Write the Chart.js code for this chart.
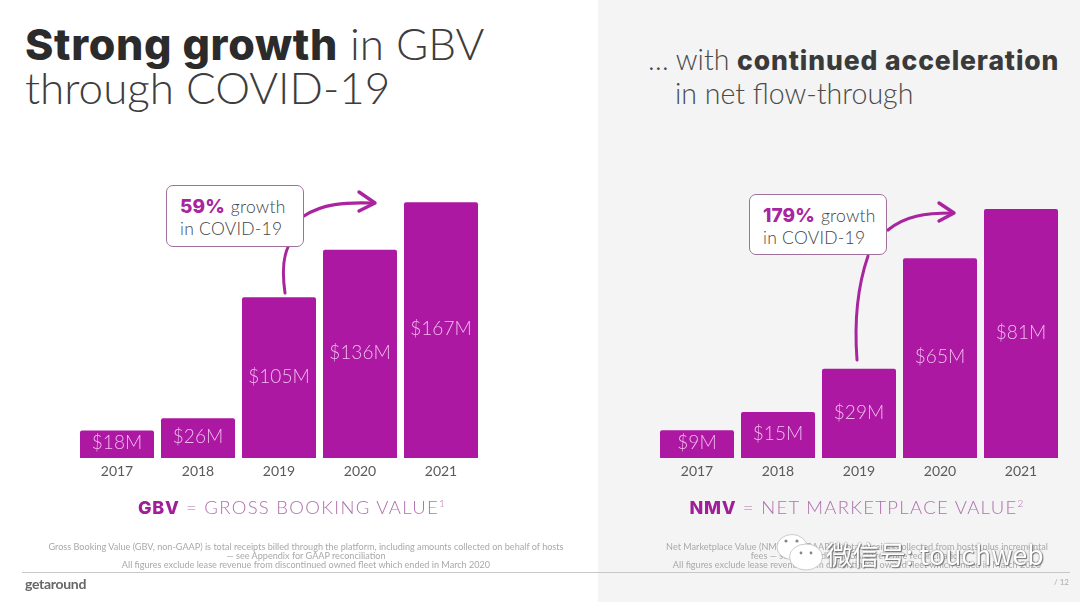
<!DOCTYPE html>
<html>
<head>
<meta charset="utf-8">
<script src="https://cdn.jsdelivr.net/npm/chart.js"></script>
<style>
  html, body { margin: 0; padding: 0; background: #fff; }
  body { width: 1080px; height: 602px; position: relative; overflow: hidden; font-family: Lato, sans-serif; color: #4a4a4a; }
  .abs { position: absolute; white-space: nowrap; }
  #rightPanel { left: 598px; top: 0; width: 482px; height: 602px; background: #f4f4f4; }
  canvas { position: absolute; }
  b { font-family: Inter, sans-serif; }
  .title { font-size: 44px; line-height: 43px; font-weight: 300; color: #3d3d3d; }
  .title b { font-weight: 800; font-size: 43px; letter-spacing: 0.7px; color: #2b2b2b; }
  .sub { font-size: 28.5px; line-height: 33px; font-weight: 300; color: #4a4a4a; }
  .sub b { font-weight: 800; font-size: 26.5px; letter-spacing: 0.9px; color: #3a3a3a; }
  .callout { border: 1px solid #a0709c; border-radius: 7px; background: #fff; box-sizing: border-box; font-size: 17.5px; line-height: 22px; font-weight: 300; letter-spacing: 0.25px; padding: 10px 0 0 13px; color: #444; }
  .callout b { color: #a9259f; font-weight: 800; font-size: 19px; letter-spacing: 0.1px; margin-right: 1px; }
  .metric { font-size: 18.5px; font-weight: 300; letter-spacing: 1.3px; color: #b06fae; transform: translateX(-50%); }
  .metric b { color: #a01f98; font-weight: 800; font-size: 18px; letter-spacing: 0.8px; }
  .metric sup { font-size: 10px; line-height: 0; }
  .note { font-size: 9.1px; line-height: 9.2px; color: #a9a9a9; text-align: center; transform: translateX(-50%); font-weight: 400; }
  #footLine { left: 22px; top: 572px; width: 1048px; height: 1px; background: #c8c8c8; }
  #logo { left: 25px; top: 575px; font-size: 14px; font-weight: 700; color: #666; letter-spacing: -0.3px; }
  #page { left: 1054px; top: 577px; font-size: 8px; color: #aaa; }
  #mark { left: 826px; top: 534px; font-size: 26.5px; letter-spacing: 0.1px; font-family: "Noto Sans CJK SC", sans-serif; color: #fff; text-shadow: 0 0 2px #666, 1px 1px 1px #777; }
  svg { position: absolute; left: 0; top: 0; }
</style>
</head>
<body>
<div class="abs" id="rightPanel"></div>

<div class="abs title" style="left:25px;top:22px"><b>Strong growth</b> in GBV<br>through COVID-19</div>
<div class="abs sub" style="left:648px;top:43px">… with <b>continued acceleration</b><br><span style="margin-left:27px">in net flow-through</span></div>

<canvas id="gbvChart"></canvas>
<canvas id="nmvChart"></canvas>

<svg width="1080" height="602" fill="none" stroke="#a9259f" stroke-linecap="round" stroke-linejoin="round">
  <path d="M285 293 C282 272 283 258 288 247" stroke-width="3"/>
  <path d="M304 216 C322 204 345 202 372 203" stroke-width="3.2"/>
  <path d="M359 192 L375 203 L359 211" stroke-width="3.4"/>
  <path d="M857 360 C854 320 858 285 868 256" stroke-width="3"/>
  <path d="M888 230 C905 216 925 213 952 213" stroke-width="3.2"/>
  <path d="M939 203 L954 213 L939 221" stroke-width="3.4"/>
</svg>

<div class="abs callout" style="left:166px;top:185px;width:138px;height:62px"><b>59%</b> growth<br>in COVID-19</div>
<div class="abs callout" style="left:749px;top:194px;width:138px;height:61px"><b>179%</b> growth<br>in COVID-19</div>

<div class="abs metric" style="left:292px;top:496px"><b>GBV</b> = GROSS BOOKING VALUE<sup>1</sup></div>
<div class="abs metric" style="left:857px;top:496px"><b>NMV</b> = NET MARKETPLACE VALUE<sup>2</sup></div>

<div class="abs note" style="left:306px;top:542px">Gross Booking Value (GBV, non-GAAP) is total receipts billed through the platform, including amounts collected on behalf of hosts<br>— see Appendix for GAAP reconciliation<br>All figures exclude lease revenue from discontinued owned fleet which ended in March 2020</div>
<div class="abs note" style="left:857px;top:542px">Net Marketplace Value (NMV, non-GAAP) is total receipts collected from hosts, plus incremental<br>fees — see Appendix for GAAP revenue reconciliation<br>All figures exclude lease revenue from discontinued owned fleet which ended in March 2020</div>

<div class="abs" id="footLine"></div>
<div class="abs" id="logo">getaround</div>
<div class="abs" id="page">/ 12</div>

<svg width="1080" height="602" fill="#fff" stroke="#aaa" stroke-width="0.6">
  <ellipse cx="792" cy="547" rx="15" ry="12.5"/>
  <circle cx="786" cy="541" r="1.6" fill="#888" stroke="none"/>
  <circle cx="797" cy="541" r="1.6" fill="#888" stroke="none"/>
  <ellipse cx="806" cy="557" rx="16.5" ry="13"/>
  <circle cx="801" cy="553" r="1.4" fill="#888" stroke="none"/>
  <circle cx="811" cy="553" r="1.4" fill="#888" stroke="none"/>
</svg>
<div class="abs" id="mark">微信号: touchweb</div>

<script>
// Data
const years = ['2017', '2018', '2019', '2020', '2021'];
const gbvValues = [18, 26, 105, 136, 167];
const nmvValues = [9, 15, 29, 65, 81];

const BAR_COLOR = '#ad18a3';
const LABEL_COLOR = '#f0bdec';

// Prints "$18M" inside each bar, a bit above its middle
const valueLabels = {
  id: 'valueLabels',
  afterDatasetsDraw(chart) {
    const ctx = chart.ctx;
    const meta = chart.getDatasetMeta(0);
    ctx.save();
    ctx.fillStyle = LABEL_COLOR;
    ctx.font = '300 19px Lato';
    ctx.textAlign = 'center';
    ctx.textBaseline = 'middle';
    meta.data.forEach((bar, i) => {
      const value = chart.data.datasets[0].data[i];
      ctx.fillText('$' + value + 'M', bar.x, (bar.y + bar.base) / 2 - 1);
    });
    ctx.restore();
  }
};

function drawBars(canvasId, left, values, yMax) {
  const canvas = document.getElementById(canvasId);
  canvas.style.left = left + 'px';
  canvas.style.top = '170px';
  canvas.width = 406;
  canvas.height = 312;
  canvas.style.width = '406px';
  canvas.style.height = '312px';

  return new Chart(canvas, {
    type: 'bar',
    data: {
      labels: years,
      datasets: [{
        data: values,
        backgroundColor: BAR_COLOR,
        borderRadius: 2,
        borderSkipped: 'bottom',
        barPercentage: 74 / 81,
        categoryPercentage: 1
      }]
    },
    options: {
      responsive: false,
      animation: false,
      devicePixelRatio: 1,
      layout: { padding: { left: 0.5, right: 0.5 } },
      plugins: { legend: { display: false }, tooltip: { enabled: false } },
      scales: {
        x: {
          grid: { display: false, tickLength: 0 },
          border: { display: false },
          afterFit: (scale) => { scale.height = 24; },
          ticks: { color: '#5a5a5a', padding: 5, maxRotation: 0, font: { family: 'Lato', size: 14 } }
        },
        y: { display: false, min: 0, max: yMax }
      }
    },
    plugins: [valueLabels]
  });
}

drawBars('gbvChart', 76, gbvValues, 188);
drawBars('nmvChart', 656, nmvValues, 93.7);
</script>
</body>
</html>
